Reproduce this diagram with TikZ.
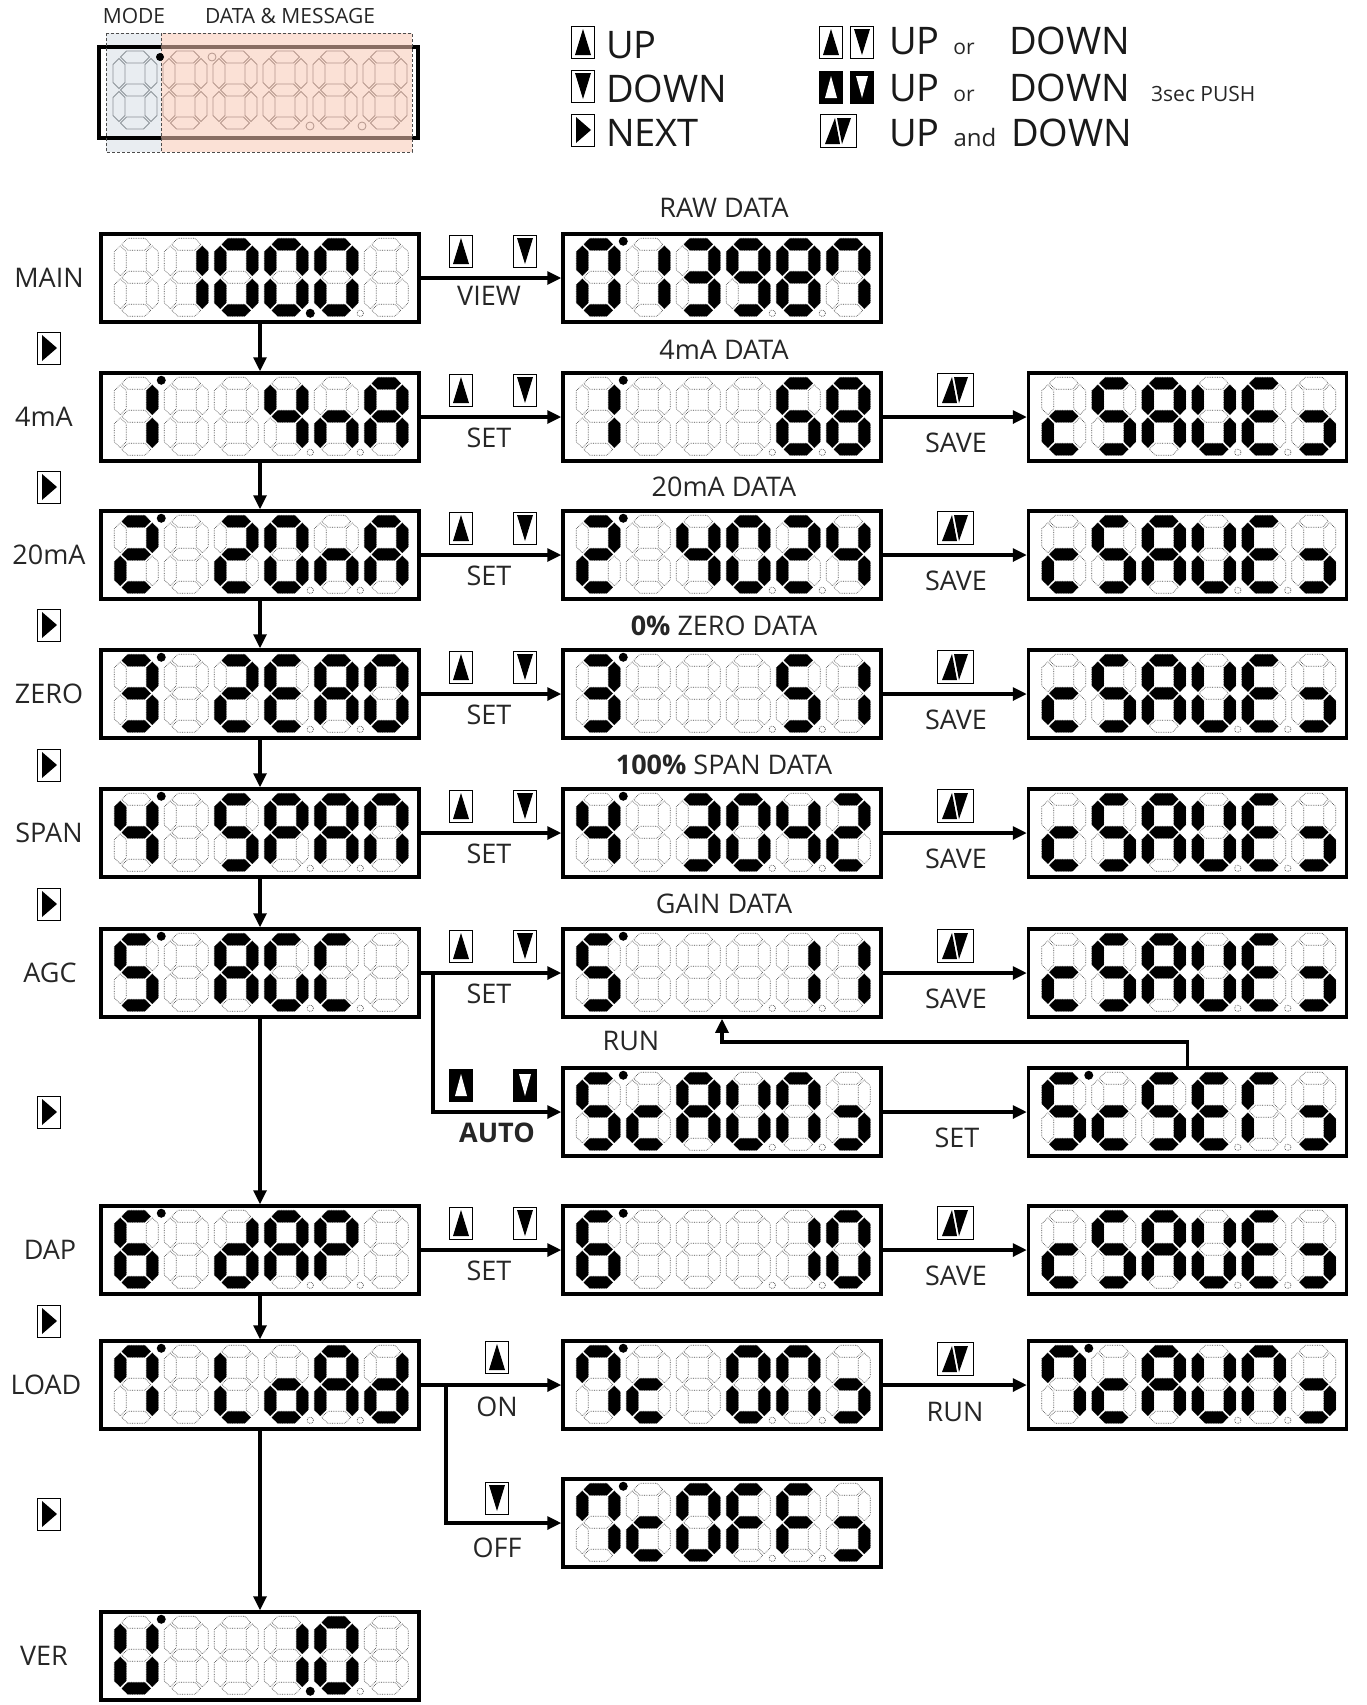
\documentclass[tikz,border=0pt]{standalone}
\usepackage{fontspec}
\setmainfont{Open Sans}
\usetikzlibrary{arrows.meta}

% seven segment glyphs
\newcommand\chZero{a,b,c,d,e,f}
\newcommand\chOne{b,c}
\newcommand\chTwo{a,b,d,e,g}
\newcommand\chThree{a,b,c,d,g}
\newcommand\chFour{b,c,f,g}
\newcommand\chFive{a,c,d,f,g}
\newcommand\chSix{a,c,d,e,f,g}
\newcommand\chSeven{a,b,c,f}
\newcommand\chEight{a,b,c,d,e,f,g}
\newcommand\chNine{a,b,c,d,f,g}
\newcommand\chA{a,b,c,e,f,g}
\newcommand\chC{a,d,e,f}
\newcommand\chc{d,e,g}
\newcommand\chrc{c,d,g}
\newcommand\chd{b,c,d,e,g}
\newcommand\chE{a,d,e,f,g}
\newcommand\chF{a,e,f,g}
\newcommand\chG{a,c,d,e,f}
\newcommand\chL{d,e,f}
\newcommand\chn{c,e,g}
\newcommand\chN{a,b,c,e,f}
\newcommand\cho{c,d,e,g}
\newcommand\chP{a,b,e,f,g}
\newcommand\chr{a,e,f}
\newcommand\chS{a,c,d,f,g}
\newcommand\chU{b,c,d,e,f}
\newcommand\chx{x}

\definecolor{modefill}{RGB}{233,237,241}
\definecolor{datafill}{RGB}{248,200,180}
\definecolor{legmode}{RGB}{140,146,152}
\definecolor{legdata}{RGB}{180,150,140}

\tikzset{
  sega/.style={insert path={(7.5,6) -- (13.5,0) -- (30.5,0) -- (36.5,6) -- (30.5,12) -- (13.5,12) -- cycle}},
  segb/.style={insert path={(38,7.5) -- (44,13.5) -- (44,31.5) -- (38,37.5) -- (32,31.5) -- (32,13.5) -- cycle}},
  segc/.style={insert path={(38,40.5) -- (44,46.5) -- (44,64.5) -- (38,70.5) -- (32,64.5) -- (32,46.5) -- cycle}},
  segd/.style={insert path={(7.5,72) -- (13.5,66) -- (30.5,66) -- (36.5,72) -- (30.5,78) -- (13.5,78) -- cycle}},
  sege/.style={insert path={(6,40.5) -- (12,46.5) -- (12,64.5) -- (6,70.5) -- (0,64.5) -- (0,46.5) -- cycle}},
  segf/.style={insert path={(6,7.5) -- (12,13.5) -- (12,31.5) -- (6,37.5) -- (0,31.5) -- (0,13.5) -- cycle}},
  segg/.style={insert path={(7.5,39) -- (13.5,33) -- (30.5,33) -- (36.5,39) -- (30.5,45) -- (13.5,45) -- cycle}},
  segx/.style={},
  segoff/.style={draw=black!70, densely dotted, line width=0.7pt},
  segon/.style={fill=black},
  lcdbox/.style={draw=black, line width=3.5pt, fill=white, minimum width=318pt, minimum height=88pt, inner sep=0pt},
  keybox/.style={draw=black, line width=1pt, fill=white, minimum width=23pt, minimum height=32pt, inner sep=0pt},
  flow/.style={line width=3.2pt, -{Triangle[length=14pt,width=13pt]}},
  lbl/.style={font=\fontsize{27}{32}\selectfont, text=black!85, inner sep=0pt},
  leg/.style={font=\fontsize{38}{44}\selectfont, text=black!90, inner sep=0pt},
  legsmall/.style={font=\fontsize{21}{25}\selectfont, text=black!85, inner sep=0pt},
}

% display: name, centre, six glyphs, mode dot, decimal point
\newcommand\lcd[5]{%
  \node[lcdbox] (#1) at (#2) {};
  \begin{scope}[shift={(#1.north west)}]
    \foreach \dg [count=\k from 0] in {#3} {
      \edef\segs{\dg}
      \begin{scope}[shift={(15+50*\k,6)}]
        \foreach \s in {a,b,c,d,e,f,g} {\edef\segcmd{\noexpand\path[segoff,seg\s];}\segcmd}
        \foreach \s in \segs {\edef\segcmd{\noexpand\path[segon,seg\s];}\segcmd}
      \end{scope}
    }
    \foreach \p in {211,261} {\path[segoff] (\p,81) circle[radius=3.2pt];}
    \ifnum#4=1 \fill (62,9) circle[radius=4.5pt]; \fi
    \ifnum#5>0 \fill (#5,81) circle[radius=4.5pt]; \fi
  \end{scope}}

% push buttons
\newcommand\keyup[2]{%
  \node[keybox] (#1) at (#2) {};
  \fill ([shift={(-8,13)}]#1.center) -- ([shift={(0,-13)}]#1.center) -- ([shift={(8,13)}]#1.center) -- cycle;}
\newcommand\keydown[2]{%
  \node[keybox] (#1) at (#2) {};
  \fill ([shift={(-8,-13)}]#1.center) -- ([shift={(0,13)}]#1.center) -- ([shift={(8,-13)}]#1.center) -- cycle;}
\newcommand\keynext[2]{%
  \node[keybox] (#1) at (#2) {};
  \fill ([shift={(-7,-13)}]#1.center) -- ([shift={(8,0)}]#1.center) -- ([shift={(-7,13)}]#1.center) -- cycle;}
\newcommand\keyupinv[2]{%
  \node[keybox, fill=black] (#1) at (#2) {};
  \fill[white] ([shift={(-6,11)}]#1.center) -- ([shift={(0,-11)}]#1.center) -- ([shift={(6,11)}]#1.center) -- cycle;}
\newcommand\keydowninv[2]{%
  \node[keybox, fill=black] (#1) at (#2) {};
  \fill[white] ([shift={(-6,-11)}]#1.center) -- ([shift={(0,11)}]#1.center) -- ([shift={(6,-11)}]#1.center) -- cycle;}
\newcommand\keyboth[2]{%
  \node[keybox, minimum width=36pt, minimum height=33pt] (#1) at (#2) {};
  \fill ([shift={(-13,13)}]#1.center) -- ([shift={(-3,-13)}]#1.center) -- ([shift={(2,13)}]#1.center) -- cycle;
  \fill ([shift={(-1,-13)}]#1.center) -- ([shift={(13,-13)}]#1.center) -- ([shift={(4,13)}]#1.center) -- cycle;}

\begin{document}
\begin{tikzpicture}[x=1pt,y=-1pt]
    \useasboundingbox (0,0) rectangle (1366,1705);

    % legend display
    \node[legsmall] (lmode) at (134,16) {MODE};
    \node[legsmall] (ldata) at (290,16) {DATA \& MESSAGE};
    \fill[modefill] (106,33) rectangle (161,152);
    \draw[line width=4pt] (99,47) rectangle (418,138);
    \fill[datafill, opacity=0.55] (161,33) rectangle (412,152);
    \draw[densely dashed, line width=0.8pt, black!70] (106,33) rectangle (161,152);
    \draw[densely dashed, line width=0.8pt, black!70] (161,33) rectangle (412,152);
    \foreach \k in {0,...,5} {
      \begin{scope}[shift={(113+50*\k,51)}]
        \ifnum\k=0 \def\lc{legmode}\else\def\lc{legdata}\fi
        \foreach \s in {a,b,c,d,e,f,g} {\edef\segcmd{\noexpand\path[draw=\lc,line width=0.8pt,seg\s];}\segcmd}
      \end{scope}
    }
    \fill (160,57) circle[radius=4pt];
    \draw[legdata, line width=0.8pt] (212,57) circle[radius=4pt];
    \draw[legdata, line width=0.8pt] (310,126) circle[radius=4pt];
    \draw[legdata, line width=0.8pt] (362,126) circle[radius=4pt];

    % legend buttons
    \keyup{lgup}{583,42}
    \keydown{lgdown}{583,86}
    \keynext{lgnext}{583,130}
    \node[leg, anchor=base west] (tup) at (606,58) {UP};
    \node[leg, anchor=base west] (tdown) at (606,102) {DOWN};
    \node[leg, anchor=base west] (tnext) at (606,146) {NEXT};

    \keyup{lgoru}{831,42}
    \keydown{lgord}{862,42}
    \keyupinv{lgpu}{831,87}
    \keydowninv{lgpd}{862,87}
    \keyboth{lgand}{838,131}
    \node[leg, anchor=base west] (tor1) at (889,54) {UP};
    \node[legsmall, anchor=base] (tor2) at (964,54) {or};
    \node[leg, anchor=base west] (tor3) at (1009,54) {DOWN};
    \node[leg, anchor=base west] (tpu1) at (889,101) {UP};
    \node[legsmall, anchor=base] (tpu2) at (964,101) {or};
    \node[leg, anchor=base west] (tpu3) at (1009,101) {DOWN};
    \node[legsmall, anchor=base west] (tpu4) at (1151,101) {3sec PUSH};
    \node[leg, anchor=base west] (tand1) at (889,146) {UP};
    \node[legsmall, font=\fontsize{24}{28}\selectfont, anchor=base] (tand2) at (975,146) {and};
    \node[leg, anchor=base west] (tand3) at (1011,146) {DOWN};

    % mode column
    \lcd{main}{260,278}{\chx,\chOne,\chZero,\chZero,\chZero,\chx}{0}{211}
    \lcd{fourma}{260,417}{\chOne,\chx,\chx,\chFour,\chn,\chA}{1}{0}
    \lcd{twentyma}{260,555}{\chTwo,\chx,\chTwo,\chZero,\chn,\chA}{1}{0}
    \lcd{zero}{260,694}{\chThree,\chx,\chTwo,\chE,\chA,\chZero}{1}{0}
    \lcd{span}{260,833}{\chFour,\chx,\chS,\chP,\chA,\chN}{1}{0}
    \lcd{agc}{260,973}{\chFive,\chx,\chA,\chG,\chC,\chx}{1}{0}
    \lcd{dap}{260,1250}{\chSix,\chx,\chd,\chA,\chP,\chx}{1}{0}
    \lcd{load}{260,1385}{\chSeven,\chx,\chL,\cho,\chA,\chd}{1}{0}
    \lcd{ver}{260,1656}{\chU,\chx,\chx,\chOne,\chZero,\chx}{1}{211}

    % data column
    \lcd{raw}{722,278}{\chZero,\chOne,\chThree,\chNine,\chEight,\chSeven}{1}{0}
    \lcd{fourmadat}{722,417}{\chOne,\chx,\chx,\chx,\chSix,\chEight}{1}{0}
    \lcd{twentymadat}{722,555}{\chTwo,\chx,\chFour,\chZero,\chTwo,\chFour}{1}{0}
    \lcd{zerodat}{722,694}{\chThree,\chx,\chx,\chx,\chFive,\chOne}{1}{0}
    \lcd{spandat}{722,833}{\chFour,\chx,\chThree,\chZero,\chFour,\chTwo}{1}{0}
    \lcd{gain}{722,973}{\chFive,\chx,\chx,\chx,\chOne,\chOne}{1}{0}
    \lcd{scaun}{722,1112}{\chS,\chc,\chA,\chU,\chN,\chrc}{1}{0}
    \lcd{dapdat}{722,1250}{\chSix,\chx,\chx,\chx,\chOne,\chZero}{1}{0}
    \lcd{loadon}{722,1385}{\chSeven,\chc,\chx,\chZero,\chN,\chrc}{1}{0}
    \lcd{loadoff}{722,1523}{\chSeven,\chc,\chZero,\chF,\chF,\chrc}{1}{0}

    % save column
    \lcd{fourmasave}{1187.5,417}{\chc,\chS,\chA,\chU,\chE,\chrc}{0}{0}
    \lcd{twentymasave}{1187.5,555}{\chc,\chS,\chA,\chU,\chE,\chrc}{0}{0}
    \lcd{zerosave}{1187.5,694}{\chc,\chS,\chA,\chU,\chE,\chrc}{0}{0}
    \lcd{spansave}{1187.5,833}{\chc,\chS,\chA,\chU,\chE,\chrc}{0}{0}
    \lcd{gainsave}{1187.5,973}{\chc,\chS,\chA,\chU,\chE,\chrc}{0}{0}
    \lcd{scser}{1187.5,1112}{\chS,\chc,\chS,\chE,\chr,\chrc}{1}{0}
    \lcd{dapsave}{1187.5,1250}{\chc,\chS,\chA,\chU,\chE,\chrc}{0}{0}
    \lcd{loadrun}{1187.5,1385}{\chSeven,\chc,\chA,\chU,\chN,\chrc}{1}{0}

    % mode names
    \node[lbl] (nmain) at (49,278) {MAIN};
    \node[lbl] (n4ma) at (44,417) {4mA};
    \node[lbl] (n20ma) at (49,555) {20mA};
    \node[lbl] (nzero) at (49,694) {ZERO};
    \node[lbl] (nspan) at (49,833) {SPAN};
    \node[lbl] (nagc) at (50,973) {AGC};
    \node[lbl] (ndap) at (50,1250) {DAP};
    \node[lbl] (nload) at (46,1385) {LOAD};
    \node[lbl] (nver) at (44,1656) {VER};

    % data titles
    \node[lbl] (traw) at (724,208) {RAW DATA};
    \node[lbl] (t4ma) at (724,350) {4mA DATA};
    \node[lbl] (t20ma) at (724,487) {20mA DATA};
    \node[lbl] (tzero) at (724,626) {\textbf{0\%} ZERO DATA};
    \node[lbl] (tspan) at (724,765) {\textbf{100\%} SPAN DATA};
    \node[lbl] (tgain) at (724,904) {GAIN DATA};

    % next buttons
    \foreach \y [count=\i] in {348,487,625,765,904,1112,1321,1514} {
      \keynext{nx\i}{49,\y}
    }

    % up/down buttons and labels between mode and data
    \foreach \r [count=\i] in {278,417,555,694,833,973,1250} {
      \keyup{su\i}{461,\r-27}
      \keydown{sd\i}{525,\r-27}
    }
    \node[lbl] (lview) at (489,296) {VIEW};
    \foreach \r [count=\i] in {417,555,694,833,973,1250} {
      \node[lbl] (lset\i) at (489,\r+21) {SET};
    }

    % save buttons and labels
    \foreach \r [count=\i] in {417,555,694,833,973,1250} {
      \keyboth{sv\i}{955,\r-27}
      \node[lbl] (lsave\i) at (956,\r+26) {SAVE};
    }

    % auto tuning
    \keyupinv{au}{461,1085}
    \keydowninv{ad}{525,1085}
    \node[lbl, font=\fontsize{27}{32}\selectfont\bfseries] (lauto) at (497,1133) {AUTO};
    \node[lbl] (lrun1) at (631,1041) {RUN};
    \node[lbl] (lset7) at (957,1138) {SET};

    % load test
    \keyup{lu}{497,1357}
    \node[lbl] (lon) at (497,1407) {ON};
    \keydown{ld}{497,1498}
    \node[lbl] (loff) at (497,1548) {OFF};
    \keyboth{lr}{955,1359}
    \node[lbl] (lrun2) at (955,1412) {RUN};

    % flow
    \path [flow] (main) edge (fourma);
    \path [flow] (fourma) edge (twentyma);
    \path [flow] (twentyma) edge (zero);
    \path [flow] (zero) edge (span);
    \path [flow] (span) edge (agc);
    \path [flow] (agc) edge (dap);
    \path [flow] (dap) edge (load);
    \path [flow] (load) edge (ver);

    \path [flow] (main) edge (raw);
    \path [flow] (fourma) edge (fourmadat);
    \path [flow] (twentyma) edge (twentymadat);
    \path [flow] (zero) edge (zerodat);
    \path [flow] (span) edge (spandat);
    \path [flow] (agc) edge (gain);
    \path [flow] (dap) edge (dapdat);
    \path [flow] (load) edge (loadon);

    \path [flow] (fourmadat) edge (fourmasave);
    \path [flow] (twentymadat) edge (twentymasave);
    \path [flow] (zerodat) edge (zerosave);
    \path [flow] (spandat) edge (spansave);
    \path [flow] (gain) edge (gainsave);
    \path [flow] (scaun) edge (scser);
    \path [flow] (dapdat) edge (dapsave);
    \path [flow] (loadon) edge (loadrun);

    \coordinate (agcsplit) at (433,973);
    \coordinate (loadsplit) at (446,1385);
    \coordinate (runbend) at (1187.5,1042);
    \draw [flow] (agcsplit) |- (scaun);
    \draw [flow] (loadsplit) |- (loadoff);
    \draw [flow] (scser) -- (runbend) -| (gain);
\end{tikzpicture}
\end{document}
